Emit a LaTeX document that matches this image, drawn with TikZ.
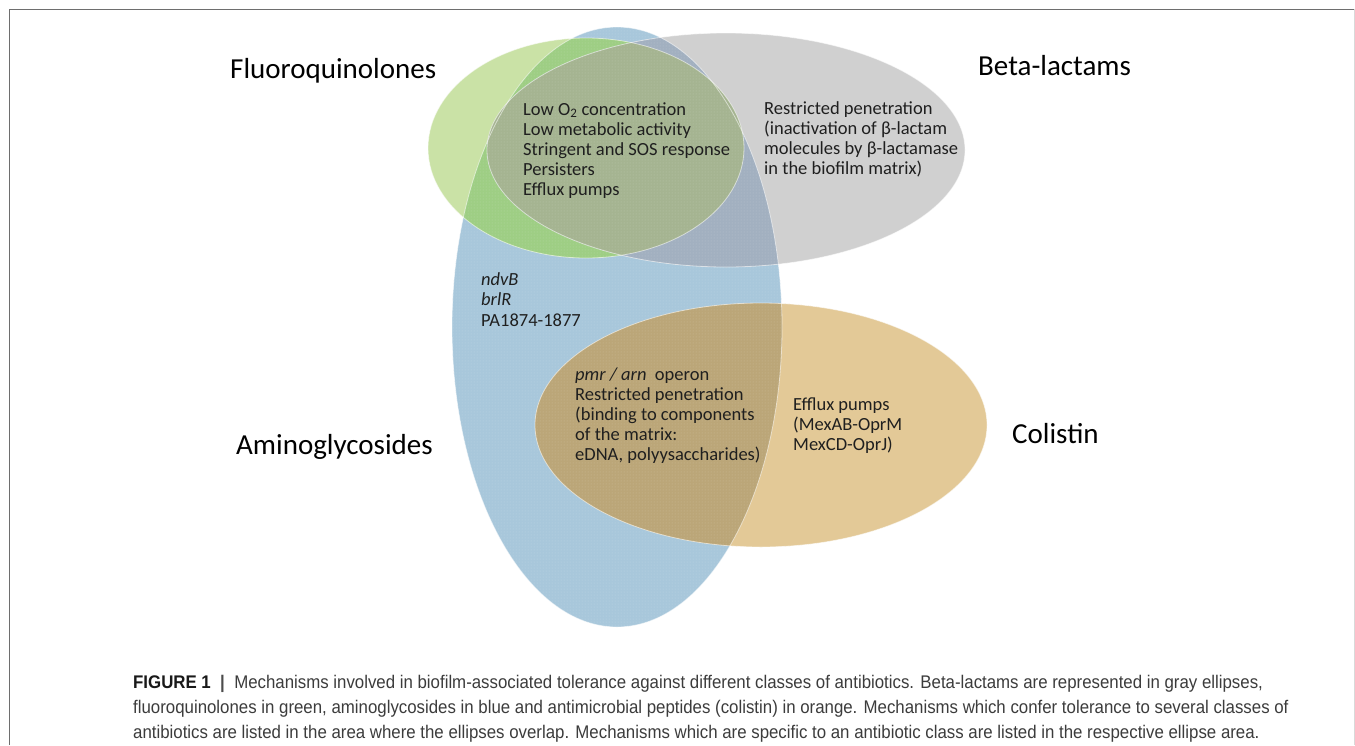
\documentclass[tikz,border=0pt]{standalone}
\usepackage{fontspec}
\setmainfont{Carlito}
\newfontfamily\capfont[FakeStretch=0.92]{Liberation Sans}
\usetikzlibrary{patterns}
\definecolor{grn}{RGB}{202,226,166}
\definecolor{gry}{RGB}{208,208,208}
\definecolor{blu}{RGB}{168,199,219}
\definecolor{org}{RGB}{227,201,151}
\definecolor{gb}{RGB}{158,206,132}
\definecolor{gyb}{RGB}{162,176,192}
\definecolor{olv}{RGB}{165,180,145}
\definecolor{ob}{RGB}{187,166,120}
\definecolor{frame}{RGB}{110,110,110}
\definecolor{captxt}{RGB}{60,60,60}
\tikzset{
  title/.style={anchor=base west, inner sep=0pt, font=\fontsize{29}{34}\selectfont, text=black},
  body/.style={anchor=base west, inner sep=0pt, font=\fontsize{18.5}{22}\selectfont, text=black!88},
  capline/.style={anchor=base west, inner sep=0pt, font=\capfont\fontsize{18.3}{22}\selectfont, text=captxt},
  rim/.style={draw=white, draw opacity=0.55, line width=0.8pt}
}
\begin{document}
\begin{tikzpicture}[x=1pt,y=-1pt]
\useasboundingbox (0,0) rectangle (1355,745);
\fill[white] (0,0) rectangle (1355,745);
% frame
\draw[frame, line width=1pt] (9,745) -- (9,9) -- (1354,9);
\draw[black!15, line width=1pt] (1354,9) -- (1354,745);
% base fills
\def\blueE{(617,327) ellipse [x radius=165, y radius=300]}
\def\greenE{(586,148) ellipse [x radius=158, y radius=110]}
\def\grayE{(726,150) ellipse [x radius=239, y radius=117]}
\def\orgE{(761,425) ellipse [x radius=226, y radius=122]}
\fill[blu] \blueE;
\fill[grn] \greenE;
\fill[gry] \grayE;
\fill[org] \orgE;
% overlaps
\begin{scope}
  \clip \greenE;
  \fill[gb] \blueE;
\end{scope}
\begin{scope}
  \clip \grayE;
  \fill[gyb] \blueE;
\end{scope}
\begin{scope}
  \clip \greenE;
  \fill[olv] \grayE;
\end{scope}
\begin{scope}
  \clip \orgE;
  \fill[ob] \blueE;
\end{scope}
% dotted texture of the blue ellipse
\fill[pattern=dots, pattern color=white, fill opacity=0.25] \blueE;
% rims
\draw[rim] \blueE;
\draw[rim] \greenE;
\draw[rim] \grayE;
\draw[rim] \orgE;
% titles
\node[title] (tF) at (230,78) {Fluoroquinolones};
\node[title] (tB) at (978,75) {Beta-lactams};
\node[title] (tA) at (236,454) {Aminoglycosides};
\node[title] (tC) at (1012,443) {Colistin};
% common mechanisms
\node[body] (m1) at (523,115) {Low O\textsubscript{2} concentration};
\node[body] (m2) at (523,135) {Low metabolic activity};
\node[body] (m3) at (523,155) {Stringent and SOS response};
\node[body] (m4) at (523,175) {Persisters};
\node[body] (m5) at (523,195) {Efflux pumps};
% beta-lactams
\node[body] (b1) at (764,114) {Restricted penetration};
\node[body] (b2) at (764,134) {(inactivation of β-lactam};
\node[body] (b3) at (764,154) {molecules by β-lactamase};
\node[body] (b4) at (764,174) {in the biofilm matrix)};
% aminoglycosides
\node[body] (a1) at (481,285) {\itshape ndvB};
\node[body] (a2) at (481,305) {\itshape brlR};
\node[body] (a3) at (481,326) {PA1874-1877};
% aminoglycosides + colistin
\node[body] (o1) at (575,380) {\textit{pmr / arn}\ \ operon};
\node[body] (o2) at (575,400) {Restricted penetration};
\node[body] (o3) at (575,420) {(binding to components};
\node[body] (o4) at (575,440) {of the matrix:};
\node[body] (o5) at (575,460) {eDNA, polyysaccharides)};
% colistin
\node[body] (c1) at (793,410) {Efflux pumps};
\node[body] (c2) at (793,430) {(MexAB-OprM};
\node[body] (c3) at (793,450) {MexCD-OprJ)};
% caption
\node[capline] (cap1) at (133,688) {\textbf{\color{black!90}FIGURE 1}\ \ {\color{black!70}\textbf{|}}\ \ Mechanisms involved in biofilm-associated tolerance against different classes of antibiotics. Beta-lactams are represented in gray ellipses,};
\node[capline] (cap2) at (133,713) {fluoroquinolones in green, aminoglycosides in blue and antimicrobial peptides (colistin) in orange. Mechanisms which confer tolerance to several classes of};
\node[capline] (cap3) at (133,738) {antibiotics are listed in the area where the ellipses overlap. Mechanisms which are specific to an antibiotic class are listed in the respective ellipse area.};
\end{tikzpicture}
\end{document}
